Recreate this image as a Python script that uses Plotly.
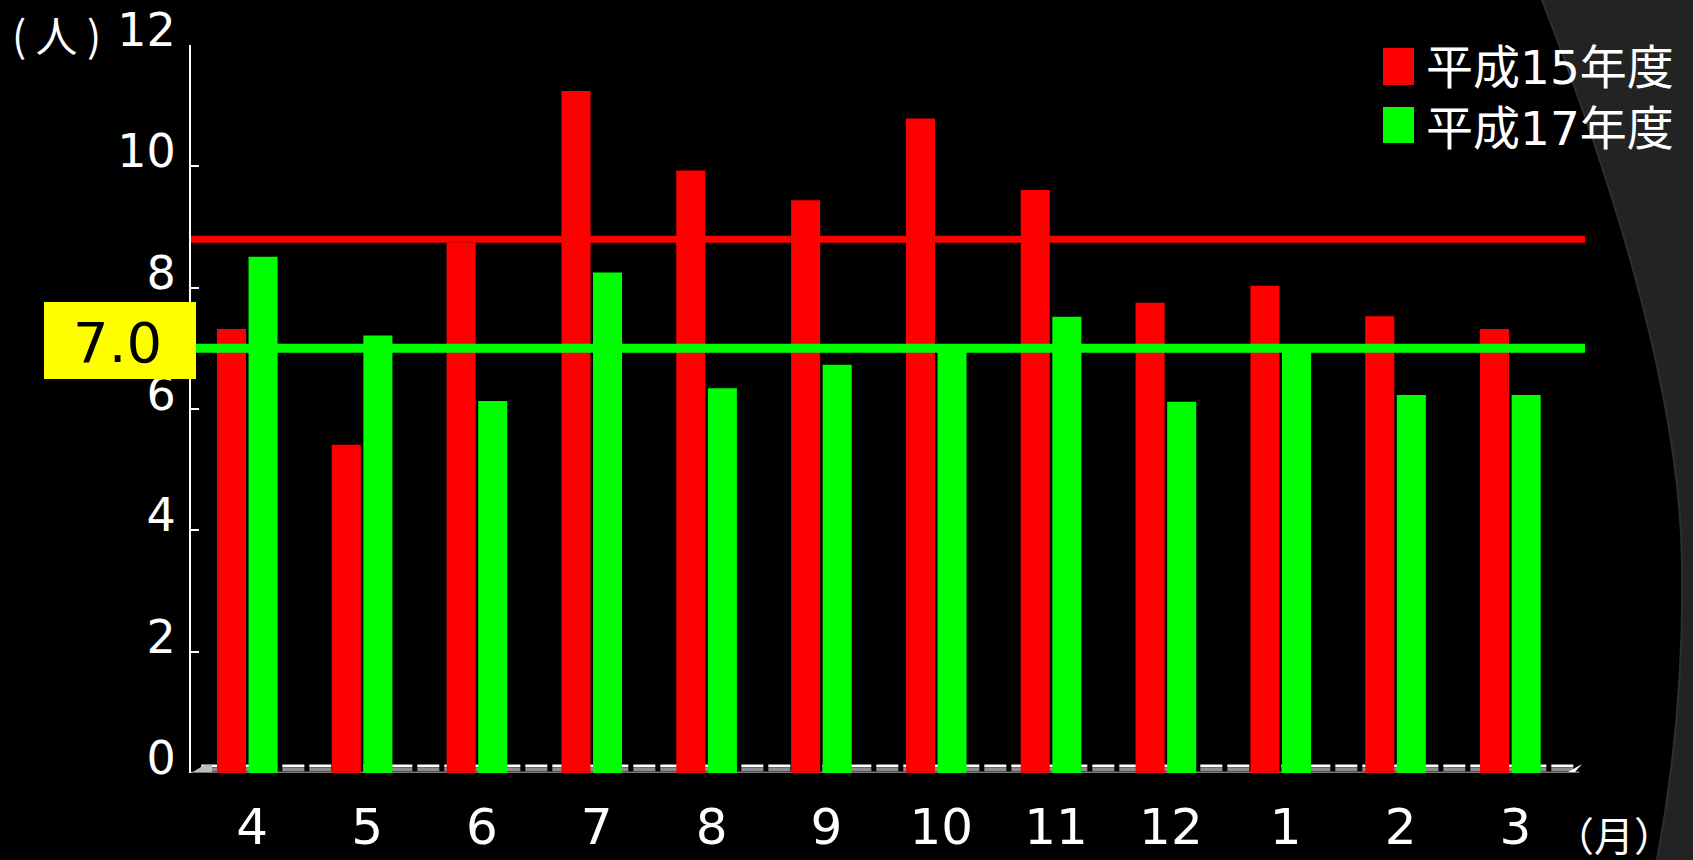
import plotly.graph_objects as go

# ---- data ----
months = ["4", "5", "6", "7", "8", "9", "10", "11", "12", "1", "2", "3"]
h15 = [7.32, 5.41, 8.74, 11.24, 9.93, 9.44, 10.79, 9.61, 7.75, 8.03, 7.53, 7.32]
h17 = [8.51, 7.21, 6.13, 8.25, 6.34, 6.73, 6.98, 7.52, 6.12, 6.97, 6.23, 6.23]
avg_h15 = 8.8
avg_h17 = 7.0
series_names = ["平成15年度", "平成17年度"]
y_ticks = [0, 2, 4, 6, 8, 10, 12]

RED = "#ff0000"
GREEN = "#00ff00"
FONT = "DejaVu Sans, Noto Sans CJK JP"
CJK = "Noto Sans CJK JP"

W, H = 1693, 860
ML, MR, MT, MB = 191, 108, 45, 87
PW, PH = W - ML - MR, H - MT - MB


def px(x):
    return (x - ML) / PW


def py(y):
    return (H - MB - y) / PH


def pt(x, y):
    return f"{px(x):.5f},{py(y):.5f}"


fig = go.Figure()
fig.add_trace(go.Bar(x=months, y=h15, name=series_names[0], marker=dict(color=RED, line=dict(width=0))))
fig.add_trace(go.Bar(x=months, y=h17, name=series_names[1], marker=dict(color=GREEN, line=dict(width=0))))

shapes = []
# decorative grey background region on the right (slide decoration)
path = (f"M {pt(1542, 0)} C {pt(1600, 150)} {pt(1680, 380)} {pt(1682, 563)} "
        f"C {pt(1684, 680)} {pt(1672, 780)} {pt(1657, 860)} "
        f"L {pt(1657, 870)} L {pt(1700, 870)} L {pt(1700, -10)} L {pt(1538, -10)} Z")
shapes.append(dict(type="path", xref="paper", yref="paper", path=path,
                   fillcolor="#232323", line=dict(color="#2e2e2e", width=2), layer="below"))

# baseline (floor edge)
shapes.append(dict(type="line", xref="x", yref="y", x0=-0.49, x1=11.6, y0=0.01, y1=0.01,
                   line=dict(color="#7a7a7a", width=2), layer="below"))
shapes.append(dict(type="line", xref="x", yref="y", x0=-0.4, x1=11.58, y0=0.06, y1=0.06,
                   line=dict(color="#8c8c8c", width=4, dash="22px,5px"), layer="below"))
shapes.append(dict(type="line", xref="x", yref="y", x0=-0.4, x1=11.58, y0=0.12, y1=0.12,
                   line=dict(color="#ffffff", width=2.5, dash="22px,5px"), layer="below"))
# arrow tip at the end of baseline
shapes.append(dict(type="path", xref="paper", yref="paper",
                   path=f"M {pt(1568, 772)} L {pt(1582, 764)} L {pt(1575, 772)} Z",
                   fillcolor="#ffffff", line=dict(width=0)))
# small corner wedge
shapes.append(dict(type="path", xref="paper", yref="paper",
                   path=f"M {pt(193, 772)} L {pt(204, 765)} L {pt(212, 765)} L {pt(212, 772)} Z",
                   fillcolor="#bdbdbd", line=dict(width=0)))

# average lines
shapes.append(dict(type="line", xref="x", yref="y", x0=-0.49, x1=11.65, y0=avg_h15, y1=avg_h15,
                   line=dict(color=RED, width=7), layer="above"))
shapes.append(dict(type="line", xref="x", yref="y", x0=-0.49, x1=11.65, y0=avg_h17, y1=avg_h17,
                   line=dict(color=GREEN, width=9), layer="above"))

# yellow value box
shapes.append(dict(type="rect", xref="paper", yref="paper", x0=px(44), x1=px(196), y0=py(379), y1=py(302),
                   fillcolor="#ffff00", line=dict(width=0), layer="above"))

# custom legend squares
shapes.append(dict(type="rect", xref="paper", yref="paper", x0=px(1383), x1=px(1414), y0=py(85), y1=py(48),
                   fillcolor=RED, line=dict(width=0)))
shapes.append(dict(type="rect", xref="paper", yref="paper", x0=px(1383), x1=px(1414), y0=py(143), y1=py(107),
                   fillcolor=GREEN, line=dict(width=0)))

annotations = [
    dict(text=f"{avg_h17:.1f}", xref="paper", yref="paper", x=px(117), y=py(342), showarrow=False,
         font=dict(family=FONT, size=56, color="#000000"), xanchor="center", yanchor="middle"),
    dict(text="( 人 )", xref="paper", yref="paper", x=px(10), y=py(33), showarrow=False,
         font=dict(family=CJK, size=42, color="#ffffff"), xanchor="left", yanchor="middle"),
    dict(text="（月）", xref="paper", yref="paper", x=px(1614), y=py(834), showarrow=False,
         font=dict(family=CJK, size=40, color="#ffffff"), xanchor="center", yanchor="middle"),
    dict(text=series_names[0], xref="paper", yref="paper", x=px(1424), y=py(67), showarrow=False,
         font=dict(family=FONT, size=47, color="#ffffff"), xanchor="left", yanchor="middle"),
    dict(text=series_names[1], xref="paper", yref="paper", x=px(1424), y=py(128), showarrow=False,
         font=dict(family=FONT, size=47, color="#ffffff"), xanchor="left", yanchor="middle"),
]

fig.update_layout(
    width=W, height=H,
    margin=dict(l=ML, r=MR, t=MT, b=MB, pad=0, autoexpand=False),
    paper_bgcolor="#000000", plot_bgcolor="rgba(0,0,0,0)",
    barmode="group", bargap=0.45, bargroupgap=0.08,
    showlegend=False,
    shapes=shapes, annotations=annotations,
    font=dict(family=FONT, color="#ffffff"),
    xaxis=dict(type="category", range=[-0.49, 11.65], showgrid=False, zeroline=False, showline=False,
               automargin=False, ticklabeloverflow="allow",
               ticks="", tickfont=dict(family=FONT, size=50, color="#ffffff"),
               ticklabelstandoff=20, ticklabelshift=5),
    yaxis=dict(range=[0, 12], tickvals=y_ticks, showgrid=False, zeroline=False, automargin=False,
               showline=True, linecolor="#ffffff", linewidth=2,
               ticks="inside", ticklen=8, tickwidth=2, tickcolor="#ffffff",
               tickfont=dict(family=FONT, size=46, color="#ffffff"),
               ticklabelshift=-15, ticklabelstandoff=4),
)

fig.write_html("out.html", config={"displayModeBar": False},
               post_script="document.body.style.margin='0';document.body.style.overflow='hidden';")
